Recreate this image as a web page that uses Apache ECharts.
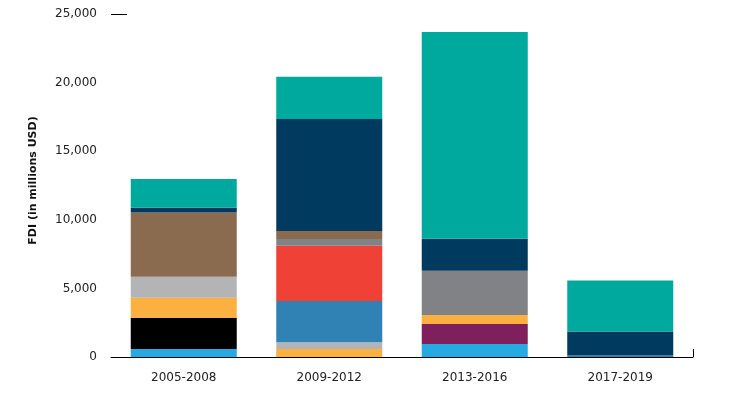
<!DOCTYPE html>
<html>
<head>
	<meta http-equiv="Content-Type" content="text/html;charset=UTF-8">
	<title>FDI stacked bars</title>
	<style>
		html, body { margin: 0; padding: 0; background: #fff; }
		#fdi { width: 731px; height: 396px; }
	</style>
</head>
<body>
	<div id="fdi"></div>

	<script type="text/javascript" src="https://cdn.jsdelivr.net/npm/echarts@6/dist/echarts.min.js"></script>
	<script type="text/javascript">
		// periods on the x axis
		var periods = ['2005-2008', '2009-2012', '2013-2016', '2017-2019'];

		// stacked values, bottom to top (millions USD)
		var lightBlue = [580, 0, 950, 0];
		var black     = [2280, 0, 0, 0];
		var purple    = [0, 0, 1460, 0];
		var orange    = [1460, 580, 660, 0];
		var lightGray = [1530, 490, 0, 0];
		var steelBlue = [0, 3010, 0, 110];
		var red       = [0, 4030, 0, 0];
		var gray      = [0, 490, 3210, 0];
		var brown     = [4690, 580, 0, 0];
		var navy      = [340, 8160, 2330, 1750];
		var teal      = [2090, 3080, 15070, 3720];

		var yTicks = [0, 5000, 10000, 15000, 20000, 25000];

		var layers = [
			['Series 1', lightBlue, '#27a9e1'],
			['Series 2', black, '#000000'],
			['Series 3', purple, '#7f1f5c'],
			['Series 4', orange, '#fbb040'],
			['Series 5', lightGray, '#b3b4b6'],
			['Series 6', steelBlue, '#3182b4'],
			['Series 7', red, '#ef4136'],
			['Series 8', gray, '#808285'],
			['Series 9', brown, '#8b6b50'],
			['Series 10', navy, '#003a5f'],
			['Series 11', teal, '#00a99d']
		];

		var chart = echarts.init(document.getElementById('fdi'));

		var series = layers.map(function (l) {
			return {
				name: l[0],
				type: 'bar',
				stack: 'fdi',
				data: l[1],
				barWidth: 106,
				itemStyle: { color: l[2] },
				emphasis: { disabled: true }
			};
		});

		var option = {
			animation: false,
			grid: { left: 111, right: 38, top: 14, bottom: 39 },
			xAxis: [{
				type: 'category',
				data: periods,
				axisLine: { lineStyle: { color: '#000', width: 1 } },
				axisTick: { show: false },
				axisLabel: {
					color: '#222',
					fontFamily: 'DejaVu Sans',
					fontSize: 12,
					margin: 15
				}
			}, {
				// only used for the small upward tick at the right end
				type: 'value',
				min: 0,
				max: 1,
				position: 'bottom',
				axisLine: { show: false },
				axisLabel: { show: false },
				splitLine: { show: false },
				axisTick: {
					show: true,
					inside: true,
					length: 8,
					customValues: [1],
					lineStyle: { color: '#000' }
				}
			}],
			yAxis: {
				type: 'value',
				min: 0,
				max: 25000,
				interval: 5000,
				name: 'FDI (in millions USD)',
				nameLocation: 'middle',
				nameGap: 72,
				nameTextStyle: {
					fontFamily: 'DejaVu Sans',
					fontWeight: 'bold',
					fontSize: 11,
					color: '#111',
					padding: [0, 0, 0, 10]
				},
				axisLine: { show: false },
				splitLine: { show: false },
				axisTick: {
					show: true,
					inside: true,
					length: 16,
					customValues: [25000],
					lineStyle: { color: '#000' }
				},
				axisLabel: {
					color: '#222',
					fontFamily: 'DejaVu Sans',
					fontSize: 12,
					margin: 14,
					customValues: yTicks,
					formatter: function (v) { return v.toLocaleString('en-US'); }
				}
			},
			series: series
		};

		chart.setOption(option);
	</script>
</body>
</html>
